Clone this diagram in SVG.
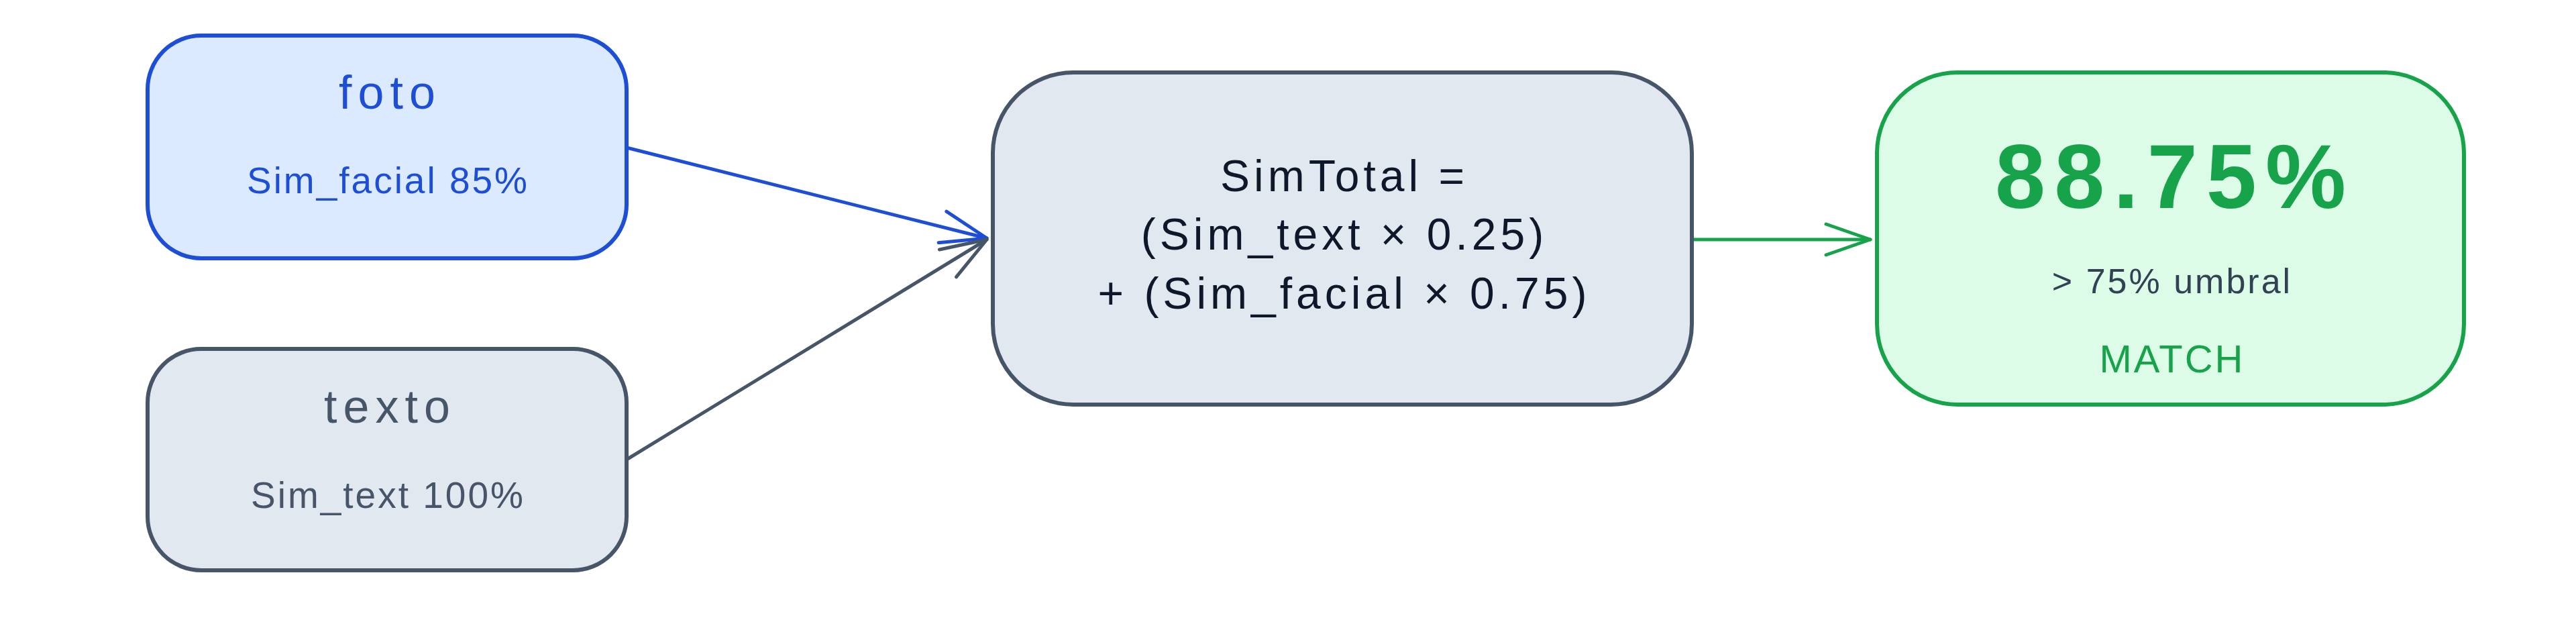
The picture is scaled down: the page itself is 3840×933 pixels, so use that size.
<svg xmlns="http://www.w3.org/2000/svg" width="3840" height="933" viewBox="0 0 3840 933">
  <style>
    text { font-family: "Liberation Sans", Arial, sans-serif; text-anchor: middle; }
    .box { stroke-width: 6; stroke-linejoin: round; }
    .blue { fill: #dbeafe; stroke: #1d4ed8; }
    .slate { fill: #e2e8f0; stroke: #475569; }
    .green { fill: #dcfce7; stroke: #16a34a; }
    .title { font-size: 70px; letter-spacing: 9px; }
    .sub { font-size: 55px; letter-spacing: 3px; }
    .formula { font-size: 66px; letter-spacing: 6px; fill: #0f172a; }
    .t-blue { fill: #1d4ed8; }
    .t-slate { fill: #475569; }
    .t-green { fill: #16a34a; }
    .conn { fill: none; stroke-width: 5; stroke-linecap: round; }
    .head { fill: none; stroke-width: 5; stroke-linecap: round; stroke-linejoin: round; }
  </style>
  <defs>
    <marker id="ah-blue" markerUnits="userSpaceOnUse" viewBox="-90 -45 100 90" markerWidth="100" markerHeight="90" refX="0" refY="0" orient="auto" overflow="visible">
      <path class="head" d="M-68,-24 L0,0 L-68,24" stroke="#1d4ed8"/>
    </marker>
    <marker id="ah-slate" markerUnits="userSpaceOnUse" viewBox="-90 -45 100 90" markerWidth="100" markerHeight="90" refX="0" refY="0" orient="auto" overflow="visible">
      <path class="head" d="M-68,-24 L0,0 L-68,24" stroke="#475569"/>
    </marker>
    <marker id="ah-green" markerUnits="userSpaceOnUse" viewBox="-90 -45 100 90" markerWidth="100" markerHeight="90" refX="0" refY="0" orient="auto" overflow="visible">
      <path class="head" d="M-66,-23 L0,0 L-66,23" stroke="#16a34a"/>
    </marker>
  </defs>
  <rect x="0" y="0" width="3840" height="933" fill="#ffffff"/>

  <g id="connectors">
    <path class="conn" d="M934,220 L1471,355" stroke="#1d4ed8" marker-end="url(#ah-blue)"/>
    <path class="conn" d="M934,685 L1471,357" stroke="#475569" marker-end="url(#ah-slate)"/>
    <path class="conn" d="M2522,357 L2788,357" stroke="#16a34a" marker-end="url(#ah-green)"/>
  </g>

  <g id="foto">
    <rect class="box blue" x="220" y="53" width="714" height="332" rx="80" ry="80"/>
    <text class="title t-blue" x="581.5" y="162">foto</text>
    <text class="sub t-blue" x="578.5" y="288">Sim_facial 85%</text>
  </g>

  <g id="texto">
    <rect class="box slate" x="220" y="520" width="714" height="330" rx="80" ry="80"/>
    <text class="title t-slate" x="581.5" y="630">texto</text>
    <text class="sub t-slate" x="578.5" y="757">Sim_text 100%</text>
  </g>

  <g id="simtotal">
    <rect class="box slate" x="1480" y="108" width="1042" height="495" rx="120" ry="120"/>
    <text class="formula" x="2004" y="285">SimTotal =</text>
    <text class="formula" x="2004" y="372">(Sim_text × 0.25)</text>
    <text class="formula" x="2004" y="460">+ (Sim_facial × 0.75)</text>
  </g>

  <g id="result">
    <rect class="box green" x="2798" y="108" width="875" height="495" rx="120" ry="120"/>
    <text class="t-green" x="3242" y="310" font-size="135" font-weight="bold" letter-spacing="13">88.75%</text>
    <text x="3238" y="437" font-size="52" letter-spacing="3" fill="#334155">&gt; 75% umbral</text>
    <text class="t-green" x="3238" y="555" font-size="58" letter-spacing="3">MATCH</text>
  </g>
</svg>
